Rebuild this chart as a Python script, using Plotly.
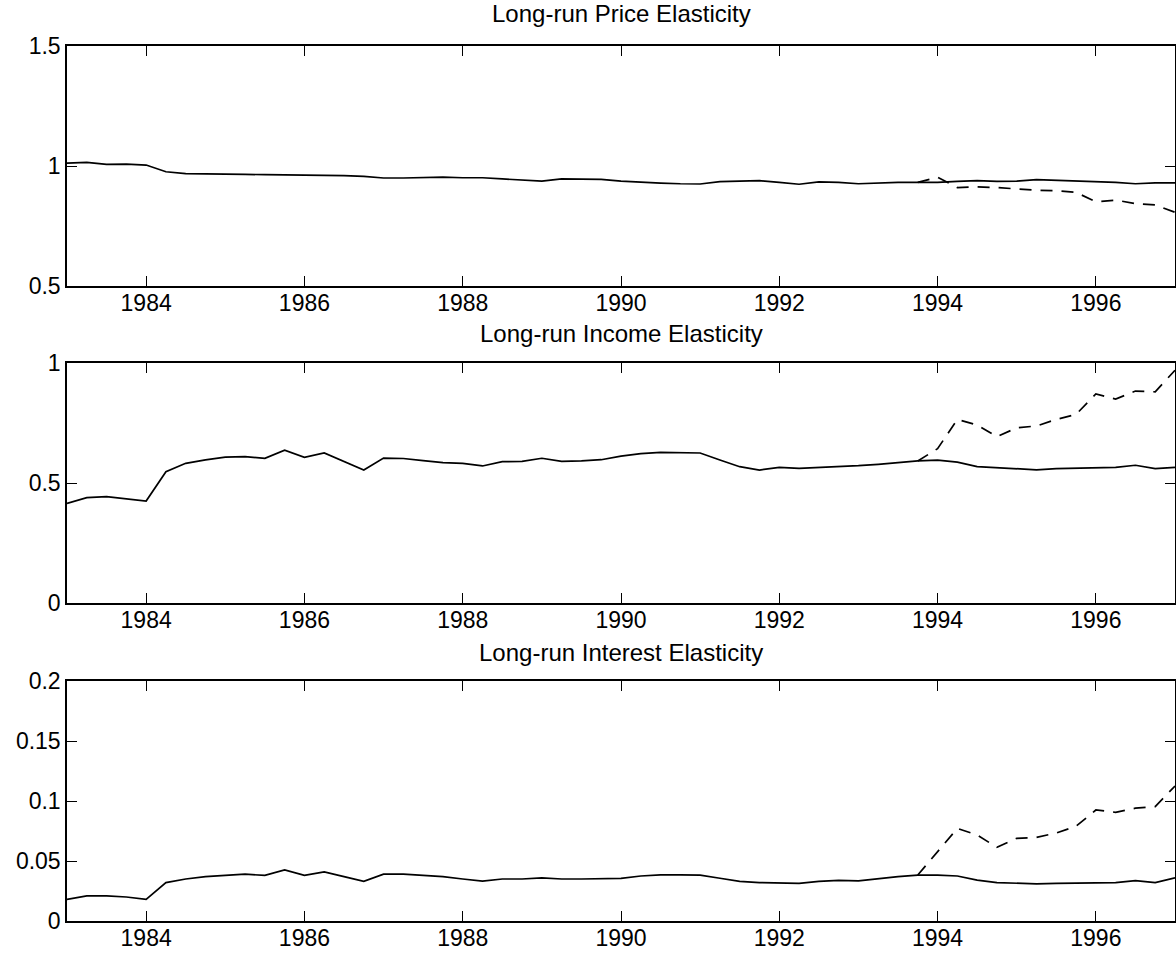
import plotly.graph_objects as go

# Quarterly dates 1983Q1 .. 1997Q1
start_year = 1983.0
n_quarters = 57
dates = [start_year + 0.25 * i for i in range(n_quarters)]

# Recursive (solid) estimates
price_solid = [
    1.012, 1.015, 1.007, 1.008,
    1.004, 0.976, 0.968, 0.966,
    0.965, 0.965, 0.964, 0.963,
    0.964, 0.963, 0.960, 0.957,
    0.950, 0.950, 0.951, 0.954,
    0.951, 0.951, 0.946, 0.942,
    0.937, 0.946, 0.945, 0.944,
    0.937, 0.932, 0.929, 0.926,
    0.925, 0.935, 0.936, 0.939,
    0.932, 0.924, 0.934, 0.932,
    0.926, 0.930, 0.932, 0.932,
    0.932, 0.936, 0.939, 0.936,
    0.937, 0.943, 0.940, 0.939,
    0.936, 0.932, 0.926, 0.930,
    0.930,
]
income_solid = [
    0.415, 0.439, 0.443, 0.434,
    0.425, 0.547, 0.582, 0.596,
    0.608, 0.610, 0.603, 0.637,
    0.607, 0.625, 0.590, 0.554,
    0.604, 0.602, 0.593, 0.585,
    0.582, 0.571, 0.589, 0.590,
    0.603, 0.590, 0.592, 0.597,
    0.612, 0.622, 0.628, 0.626,
    0.625, 0.596, 0.568, 0.554,
    0.565, 0.561, 0.564, 0.568,
    0.572, 0.578, 0.585, 0.592,
    0.595, 0.587, 0.568, 0.563,
    0.560, 0.555, 0.560, 0.561,
    0.563, 0.565, 0.574, 0.560,
    0.565,
]
interest_solid = [
    0.018, 0.021, 0.021, 0.020,
    0.018, 0.032, 0.035, 0.037,
    0.038, 0.039, 0.038, 0.0425,
    0.038, 0.041, 0.037, 0.033,
    0.039, 0.039, 0.038, 0.037,
    0.035, 0.0333, 0.035, 0.035,
    0.036, 0.035, 0.035, 0.035,
    0.0356, 0.0375, 0.0385, 0.0385,
    0.0383, 0.0356, 0.033, 0.032,
    0.032, 0.0314, 0.033, 0.0339,
    0.0334, 0.0353, 0.037, 0.0383,
    0.0383, 0.0375, 0.034, 0.032,
    0.0314, 0.031, 0.0314, 0.0317,
    0.032, 0.032, 0.0336, 0.032,
    0.036,
]

# Alternative (dashed) estimates from 1993Q4
dash_start = 1993.75
price_dashed = [0.932, 0.953, 0.910, 0.913, 0.910, 0.903, 0.899, 0.897,
                0.890, 0.851, 0.858, 0.843, 0.838, 0.807]
income_dashed = [0.592, 0.643, 0.765, 0.742, 0.693, 0.730, 0.7375, 0.765,
                 0.786, 0.871, 0.850, 0.883, 0.880, 0.970]
interest_dashed = [0.0383, 0.058, 0.0772, 0.0717, 0.0614, 0.0689, 0.0697,
                   0.0733, 0.079, 0.0925, 0.0906, 0.094, 0.0953, 0.1125]
dash_dates = [dash_start + 0.25 * i for i in range(len(price_dashed))]

titles = ["Long-run Price Elasticity", "Long-run Income Elasticity",
          "Long-run Interest Elasticity"]
y_ranges = [[0.5, 1.5], [0, 1], [0, 0.2]]
y_tickvals = [[0.5, 1, 1.5], [0, 0.5, 1], [0, 0.05, 0.1, 0.15, 0.2]]
y_ticktext = [["0.5", "1", "1.5"], ["0", "0.5", "1"],
              ["0", "0.05", "0.1", "0.15", "0.2"]]
x_tickvals = [1984, 1986, 1988, 1990, 1992, 1994, 1996]
x_ticktext = [str(v) for v in x_tickvals]

W, H = 1176, 955
# plot area pixel rows (top, bottom)
rows_px = [(46, 286), (363, 603), (681, 921)]
title_px = [13, 333, 652]

FONT = "Liberation Sans, Arial, Helvetica, sans-serif"

fig = go.Figure()
solids = [price_solid, income_solid, interest_solid]
dashes = [price_dashed, income_dashed, interest_dashed]

layout = dict(
    width=W, height=H,
    margin=dict(l=67, r=1, t=0, b=0, autoexpand=False),
    paper_bgcolor="white", plot_bgcolor="white",
    showlegend=False,
    font=dict(family=FONT, size=23, color="black"),
)
annotations = []
for i in range(3):
    sx = "" if i == 0 else str(i + 1)
    fig.add_trace(go.Scatter(x=dates, y=solids[i], mode="lines",
                             line=dict(color="black", width=1.7),
                             xaxis="x" + sx, yaxis="y" + sx))
    fig.add_trace(go.Scatter(x=dash_dates, y=dashes[i], mode="lines",
                             line=dict(color="black", width=1.7, dash="12px,9px"),
                             xaxis="x" + sx, yaxis="y" + sx))
    top, bot = rows_px[i]
    dom = [1 - bot / H, 1 - top / H]
    axis_common = dict(showline=True, linecolor="black", linewidth=1.5,
                       mirror="ticks", ticks="inside", ticklen=10,
                       tickwidth=1.3, tickcolor="black", showgrid=False,
                       zeroline=False, automargin=False,
                       tickfont=dict(family=FONT, size=23, color="black"))
    layout["xaxis" + sx] = dict(axis_common, domain=[0, 1], range=[1983, 1997],
                                tickvals=x_tickvals, ticktext=x_ticktext,
                                anchor="y" + sx, ticklabelstandoff=-4)
    layout["yaxis" + sx] = dict(axis_common, domain=dom, range=y_ranges[i],
                                tickvals=y_tickvals[i], ticktext=y_ticktext[i],
                                anchor="x" + sx, ticklabelstandoff=0)
    annotations.append(dict(text=titles[i], xref="paper", yref="paper",
                            x=0.5, y=1 - title_px[i] / H, xanchor="center",
                            yanchor="middle", showarrow=False,
                            font=dict(family=FONT, size=24, color="black")))
layout["annotations"] = annotations
fig.update_layout(**layout)
fig.write_html("out.html")
